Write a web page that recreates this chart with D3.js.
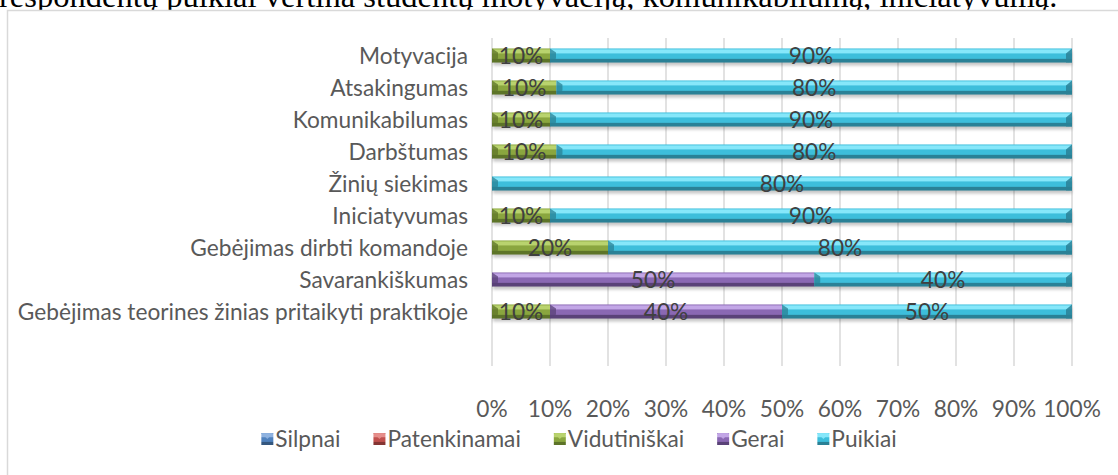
<!DOCTYPE html>
<html>
<head>
<meta charset="utf-8">
<script src="https://cdn.jsdelivr.net/npm/d3@7"></script>
<style>
  html, body { margin: 0; padding: 0; background: #fff; }
  svg { display: block; }
</style>
</head>
<body>
<svg id="chart" width="1118" height="475"></svg>
<script>
// ---- Data ----
const categories = [
  "Motyvacija",
  "Atsakingumas",
  "Komunikabilumas",
  "Darbštumas",
  "Žinių siekimas",
  "Iniciatyvumas",
  "Gebėjimas dirbti komandoje",
  "Savarankiškumas",
  "Gebėjimas teorines žinias pritaikyti praktikoje"
];
const seriesNames = ["Silpnai", "Patenkinamai", "Vidutiniškai", "Gerai", "Puikiai"];
const silpnai      = [0, 0, 0, 0, 0, 0, 0, 0, 0];
const patenkinamai = [0, 0, 0, 0, 0, 0, 0, 0, 0];
const vidutiniskai = [10, 10, 10, 10, 0, 10, 20, 0, 10];
const gerai        = [0, 0, 0, 0, 0, 0, 0, 50, 40];
const puikiai      = [90, 80, 90, 80, 80, 90, 80, 40, 50];
const xTicks = [0, 0.1, 0.2, 0.3, 0.4, 0.5, 0.6, 0.7, 0.8, 0.9, 1.0];
const topText = "respondentų puikiai vertina  studentų motyvaciją, komunikabilumą, iniciatyvumą.";

const seriesValues = [silpnai, patenkinamai, vidutiniskai, gerai, puikiai];
const colors = {
  "Silpnai":      {light: "#8fb2e0", main: "#4f81bd", dark: "#34577f"},
  "Patenkinamai": {light: "#e58e8b", main: "#c0504d", dark: "#853533"},
  "Vidutiniškai": {light: "#b9d36e", main: "#8aa63f", dark: "#5d7428"},
  "Gerai":        {light: "#c2a6e6", main: "#8a68b3", dark: "#5a4278"},
  "Puikiai":      {light: "#86e7fa", main: "#3dbedb", dark: "#2a8196"}
};

const svg = d3.select("#chart");
const defs = svg.append("defs");
seriesNames.forEach((s, i) => {
  const c = colors[s];
  const g = defs.append("linearGradient").attr("id", "g" + i)
    .attr("x1", 0).attr("y1", 0).attr("x2", 0).attr("y2", 1);
  g.append("stop").attr("offset", "0").attr("stop-color", c.main);
  g.append("stop").attr("offset", "0.12").attr("stop-color", c.light);
  g.append("stop").attr("offset", "0.3").attr("stop-color", c.light);
  g.append("stop").attr("offset", "0.4").attr("stop-color", c.main);
  g.append("stop").attr("offset", "0.7").attr("stop-color", c.main);
  g.append("stop").attr("offset", "0.78").attr("stop-color", c.dark);
  g.append("stop").attr("offset", "1").attr("stop-color", c.dark);
});
const blur = defs.append("filter").attr("id", "shadow")
  .attr("x", "-5%").attr("y", "-50%").attr("width", "110%").attr("height", "200%");
blur.append("feGaussianBlur").attr("stdDeviation", 1.6);

// Font scaling (fit to reference label widths)
const sansFont = "Lato, 'Open Sans', sans-serif";
const probe = svg.append("text").attr("font-family", sansFont).attr("font-size", 20)
  .text(categories[categories.length - 1]);
const pw = probe.node().getComputedTextLength();
probe.remove();
const fs = 0.975 * 20 * 462 / pw;

// Top text (cut off by the page top)
const tt = svg.append("text").attr("font-family", "'Liberation Serif', 'Times New Roman', serif")
  .attr("font-size", 24).attr("fill", "#000").attr("x", -1).attr("y", 7).text(topText);
const tw = tt.node().getComputedTextLength();
tt.attr("font-size", 24 * 1059 / tw);

// Chart border
svg.append("rect").attr("x", 7.5).attr("y", 10.5).attr("width", 1160).attr("height", 480)
  .attr("fill", "#fff").attr("stroke", "#d9d9d9").attr("stroke-width", 1.5);

// Scales
const x = d3.scaleLinear().domain([0, 1]).range([492, 1072]);
const y = d3.scaleBand().domain(categories).range([39.5, 327.5])
  .paddingInner(0.56).paddingOuter(0.28);

// Gridlines
svg.append("g").selectAll("line").data(xTicks).join("line")
  .attr("x1", d => x(d)).attr("x2", d => x(d))
  .attr("y1", 38).attr("y2", 366)
  .attr("stroke", "#d9d9d9").attr("stroke-width", 1.5);

// Stack data
const rows = categories.map((c, i) => {
  const vals = seriesValues.map(a => a[i]);
  const total = d3.sum(vals);
  let acc = 0;
  const segs = [];
  vals.forEach((v, k) => {
    if (v > 0) {
      segs.push({cat: c, series: k, value: v, x0: acc / total, x1: (acc + v) / total});
    }
    acc += v;
  });
  return {cat: c, segs};
});

const bh = y.bandwidth();
const barsG = svg.append("g");
barsG.selectAll("rect.sh").data(rows).join("rect").attr("class", "sh")
  .attr("x", x(0) + 1).attr("y", d => y(d.cat) + 3)
  .attr("width", x(1) - x(0) - 1).attr("height", bh)
  .attr("fill", "#000").attr("opacity", 0.22).attr("filter", "url(#shadow)");

const allSegs = rows.flatMap(r => r.segs.map((s, j) => ({...s, last: j === r.segs.length - 1})));
barsG.selectAll("rect.seg").data(allSegs).join("rect").attr("class", "seg")
  .attr("x", d => x(d.x0)).attr("y", d => y(d.cat))
  .attr("width", d => x(d.x1) - x(d.x0)).attr("height", bh)
  .attr("fill", d => `url(#g${d.series})`);
barsG.selectAll("path.lb").data(allSegs).join("path").attr("class", "lb")
  .attr("d", d => {
    const x0 = x(d.x0), t = y(d.cat);
    return `M${x0},${t}L${x0 + 6},${t + 4}L${x0 + 6},${t + bh - 4}L${x0},${t + bh}Z`;
  })
  .attr("fill", d => colors[seriesNames[d.series]].dark).attr("opacity", 0.75);
barsG.selectAll("path.rb").data(allSegs.filter(d => d.last)).join("path").attr("class", "rb")
  .attr("d", d => {
    const x1 = x(d.x1), t = y(d.cat);
    return `M${x1},${t}L${x1 - 6},${t + 5}L${x1 - 6},${t + bh}L${x1},${t + bh}Z`;
  })
  .attr("fill", d => colors[seriesNames[d.series]].dark).attr("opacity", 0.85);

// Value labels
svg.append("g").selectAll("text").data(allSegs).join("text")
  .attr("x", d => (x(d.x0) + x(d.x1)) / 2)
  .attr("y", d => y(d.cat) + bh / 2)
  .attr("dy", "0.36em")
  .attr("text-anchor", "middle")
  .attr("font-family", sansFont).attr("font-size", fs)
  .attr("fill", "#404040")
  .text(d => d.value + "%");

// Category axis labels
svg.append("g").selectAll("text").data(categories).join("text")
  .attr("x", 468).attr("y", d => y(d) + bh / 2).attr("dy", "0.36em")
  .attr("text-anchor", "end")
  .attr("font-family", sansFont).attr("font-size", fs).attr("fill", "#595959")
  .text(d => d);

// X axis tick labels
const fmt = d3.format(".0%");
svg.append("g").selectAll("text").data(xTicks).join("text")
  .attr("x", d => x(d)).attr("y", 409).attr("dy", "0.36em")
  .attr("text-anchor", "middle")
  .attr("font-family", sansFont).attr("font-size", fs).attr("fill", "#595959")
  .text(d => fmt(d));

// Legend (centered)
const lg = svg.append("g");
const items = seriesNames.map((s, i) => {
  const g = lg.append("g");
  g.append("rect").attr("x", 0).attr("y", -6).attr("width", 12).attr("height", 12)
    .attr("fill", `url(#g${i})`);
  g.append("path").attr("d", `M0,-6L12,-6L6,0Z`)
    .attr("fill", colors[s].light).attr("opacity", 0.9);
  const t = g.append("text").attr("x", 14).attr("y", 0).attr("dy", "0.36em")
    .attr("font-family", sansFont).attr("font-size", fs).attr("fill", "#595959").text(s);
  return {g, w: 14 + t.node().getComputedTextLength()};
});
const gap = 33;
const totalW = d3.sum(items, d => d.w) + gap * (items.length - 1);
let lx = 579 - totalW / 2;
items.forEach(it => {
  it.g.attr("transform", `translate(${lx},439)`);
  lx += it.w + gap;
});
</script>
</body>
</html>
